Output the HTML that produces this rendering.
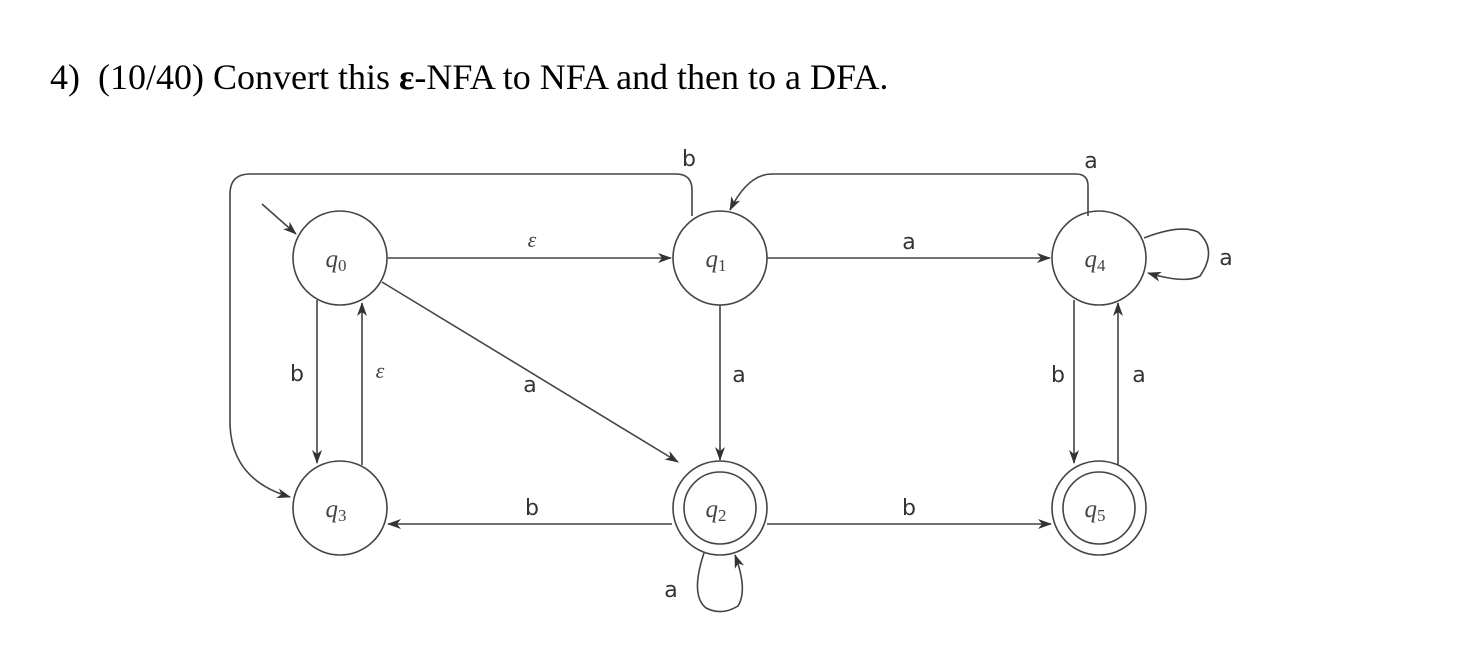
<!DOCTYPE html>
<html><head><meta charset="utf-8"><style>
html,body{margin:0;padding:0;background:#fff;}
body{width:1464px;height:656px;overflow:hidden;position:relative;}
.t{position:absolute;left:50px;top:56px;font-family:"Liberation Serif",serif;font-size:36px;color:#000;white-space:pre;}
</style></head><body>
<div class="t">4)  (10/40) Convert this <b>ε</b>-NFA to NFA and then to a DFA.</div>
<svg width="1464" height="656" style="position:absolute;left:0;top:0">
<defs><marker id="a" markerWidth="14" markerHeight="10" refX="13" refY="5" orient="auto" markerUnits="userSpaceOnUse"><path d="M0,0 L14,5 L0,10 L4,5z" fill="#333"/></marker></defs>
<g fill="none" stroke="#444" stroke-width="1.6">
<circle cx="340" cy="258" r="47"/>
<circle cx="340" cy="508" r="47"/>
<circle cx="720" cy="258" r="47"/>
<circle cx="720" cy="508" r="47"/><circle cx="720" cy="508" r="36"/>
<circle cx="1099" cy="258" r="47"/>
<circle cx="1099" cy="508" r="47"/><circle cx="1099" cy="508" r="36"/>
<line x1="262" y1="204" x2="296" y2="234" marker-end="url(#a)"/>
<line x1="388" y1="258" x2="671" y2="258" marker-end="url(#a)"/>
<line x1="382" y1="282" x2="678" y2="462" marker-end="url(#a)"/>
<line x1="317" y1="300" x2="317" y2="463" marker-end="url(#a)"/>
<line x1="362" y1="465" x2="362" y2="303" marker-end="url(#a)"/>
<line x1="720" y1="305" x2="720" y2="460" marker-end="url(#a)"/>
<line x1="767" y1="258" x2="1050" y2="258" marker-end="url(#a)"/>
<line x1="672" y1="524" x2="388" y2="524" marker-end="url(#a)"/>
<line x1="767" y1="524" x2="1051" y2="524" marker-end="url(#a)"/>
<line x1="1074" y1="300" x2="1074" y2="463" marker-end="url(#a)"/>
<line x1="1118" y1="465" x2="1118" y2="303" marker-end="url(#a)"/>
<path d="M692,216 L692,190 Q692,174 676,174 L250,174 Q230,174 230,194 L230,425 Q232,480 290,497" marker-end="url(#a)"/>
<path d="M1088,216 L1088,186 Q1088,174 1076,174 L772,174 Q748,174 730,210" marker-end="url(#a)"/>
<path d="M1144,238 Q1180,224 1198,232 Q1218,250 1200,276 Q1185,284 1148,273" marker-end="url(#a)"/>
<path d="M704,553 Q690,595 706,608 Q722,616 738,606 Q748,590 735,555" marker-end="url(#a)"/>
</g>
<g font-family="Liberation Serif,serif" font-style="italic" font-size="25" fill="#444" text-anchor="middle">
<text x="336" y="267">q<tspan font-size="17" dy="4" font-style="normal">0</tspan></text>
<text x="336" y="517">q<tspan font-size="17" dy="4" font-style="normal">3</tspan></text>
<text x="716" y="267">q<tspan font-size="17" dy="4" font-style="normal">1</tspan></text>
<text x="716" y="517">q<tspan font-size="17" dy="4" font-style="normal">2</tspan></text>
<text x="1095" y="267">q<tspan font-size="17" dy="4" font-style="normal">4</tspan></text>
<text x="1095" y="517">q<tspan font-size="17" dy="4" font-style="normal">5</tspan></text>
<text x="532" y="247" font-size="22">ε</text>
<text x="380" y="378" font-size="22">ε</text>
</g>
<g font-family="DejaVu Sans,sans-serif" font-size="22" fill="#333" text-anchor="middle">
<text x="689" y="166">b</text>
<text x="1091" y="168">a</text>
<text x="909" y="249">a</text>
<text x="1226" y="265">a</text>
<text x="297" y="381">b</text>
<text x="530" y="392">a</text>
<text x="739" y="382">a</text>
<text x="1058" y="382">b</text>
<text x="1139" y="382">a</text>
<text x="532" y="515">b</text>
<text x="909" y="515">b</text>
<text x="671" y="597">a</text>
</g>
</svg>
</body></html>
